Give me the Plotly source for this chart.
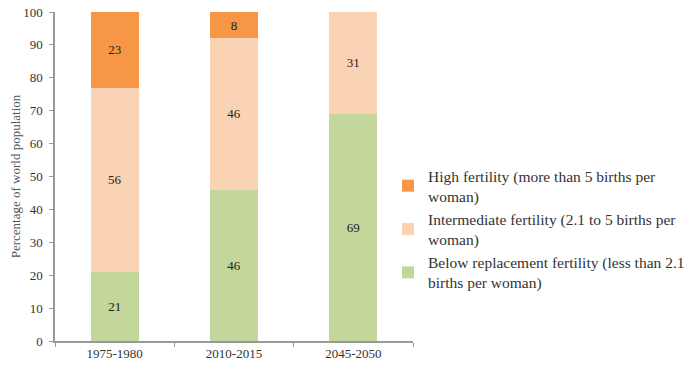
import plotly.graph_objects as go

periods = ["1975-1980", "2010-2015", "2045-2050"]
below = [21, 46, 69]
intermediate = [56, 46, 31]
high = [23, 8, None]

names = [
    "Below replacement fertility (less than 2.1<br>births per woman)",
    "Intermediate fertility (2.1 to 5 births per<br>woman)",
    "High fertility (more than 5 births per<br>woman)",
]
colors = ["#C3D69B", "#FAD3B4", "#F79646"]
ranks = [3, 2, 1]
series = [below, intermediate, high]

fig = go.Figure()
for i, (name, col, vals, rk) in enumerate(zip(names, colors, series, ranks)):
    fig.add_trace(go.Bar(
        x=periods, y=vals, name=name, legendgroup=f"g{i}", legendrank=rk,
        marker=dict(color=col, line=dict(width=0)),
        text=[("" if v is None else str(v)) for v in vals],
        textposition="inside", insidetextanchor="middle",
        textfont=dict(family="Liberation Serif", size=13, color="#222"),
        constraintext="none",
        width=0.4,
    ))

fig.update_layout(
    barmode="stack",
    width=700, height=372,
    margin=dict(l=55, r=287, t=12, b=31, autoexpand=False),
    paper_bgcolor="white", plot_bgcolor="white",
    font=dict(family="Liberation Serif", size=13, color="#333"),
    legend=dict(
        x=1 + (388 - 413) / 358.0, xanchor="left",
        y=0.553, yanchor="top",
        font=dict(family="Liberation Serif", size=15.5, color="#333"),
        traceorder="grouped",
        tracegroupgap=0,
        bgcolor="rgba(0,0,0,0)",
    ),
    showlegend=True,
)

fig.update_yaxes(
    range=[0, 100], dtick=10,
    showgrid=False, zeroline=False,
    showline=True, linecolor="#999", linewidth=1.5,
    ticks="outside", ticklen=4, tickcolor="#999",
    ticklabelstandoff=4,
    tickfont=dict(family="Liberation Serif", size=13, color="#333"),
    title=dict(text="Percentage of world population",
               font=dict(family="Liberation Serif", size=13, color="#555"),
               standoff=0),
)
fig.update_xaxes(
    showgrid=False, showline=True, linecolor="#999", linewidth=1.5,
    ticks="outside", tickson="boundaries", ticklen=4, tickcolor="#999",
    tickfont=dict(family="Liberation Serif", size=13, color="#333"),
)

fig.write_html("out.html")
